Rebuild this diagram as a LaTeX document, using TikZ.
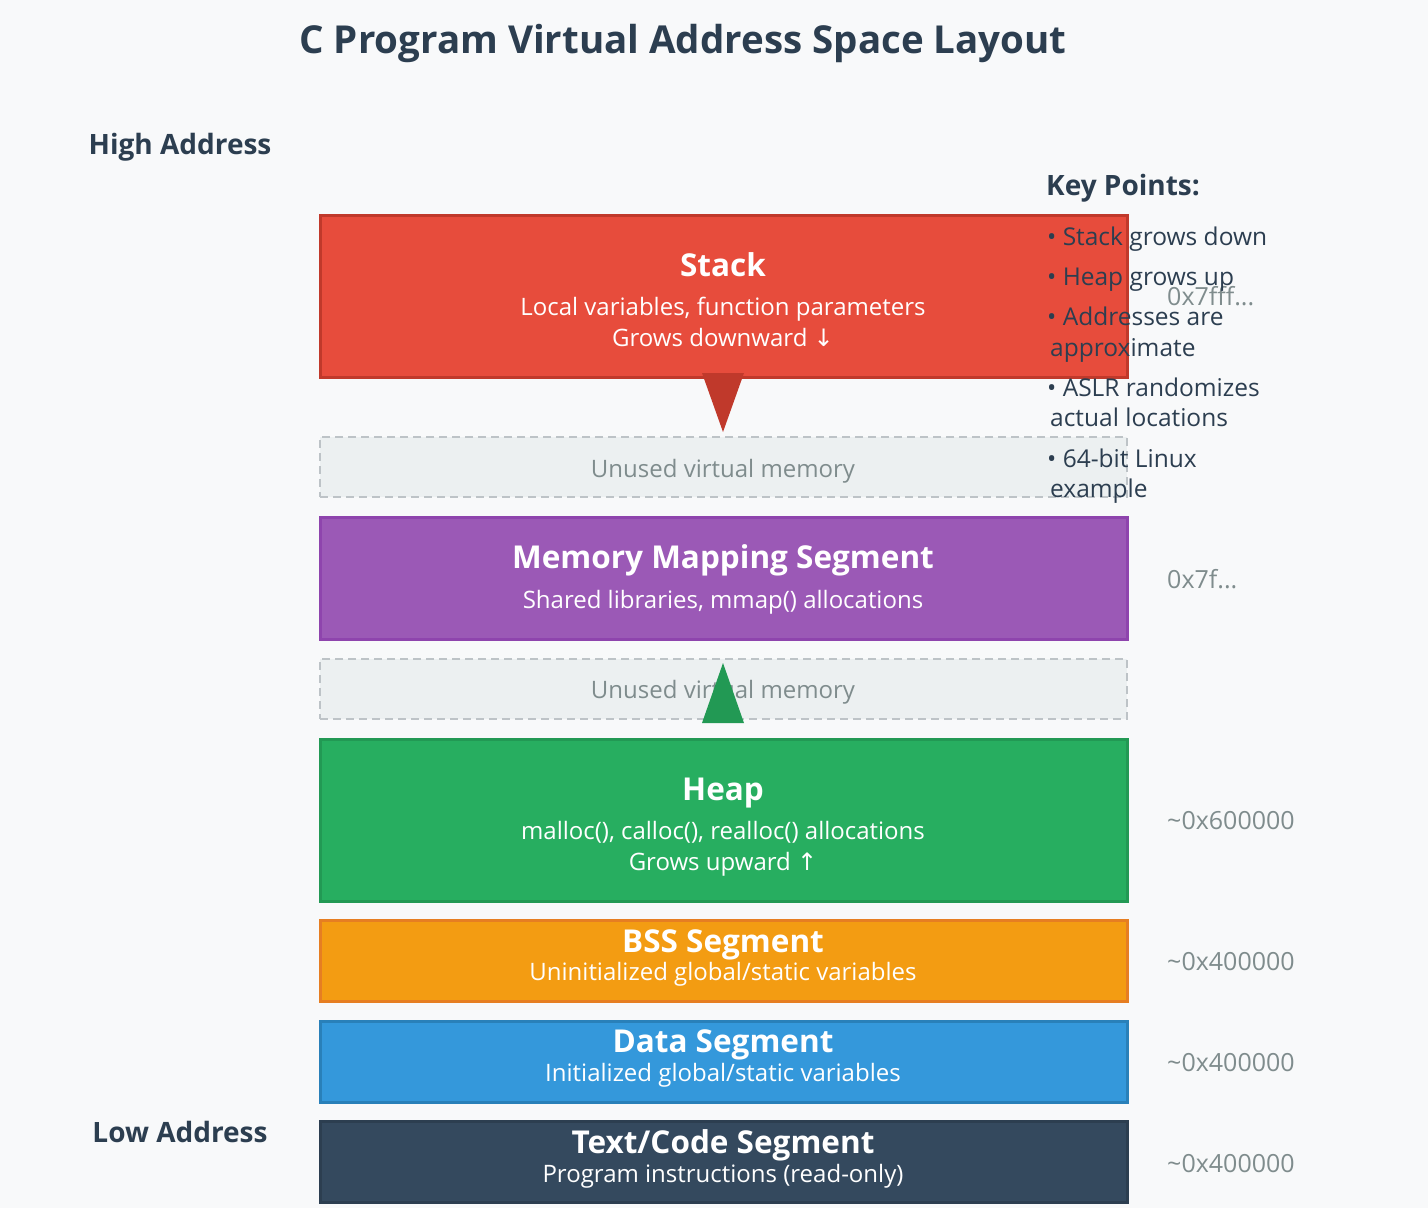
\documentclass[tikz,border=0pt]{standalone}
\usepackage{fontspec}
\setmainfont{Open Sans}
\newfontfamily\symfont{DejaVu Sans}
\definecolor{bg}{HTML}{F8F9FA}
\definecolor{ink}{HTML}{2C3E50}
\definecolor{gray1}{HTML}{7F8C8D}
\definecolor{stackF}{HTML}{E74C3C}\definecolor{stackD}{HTML}{C0392B}
\definecolor{mmapF}{HTML}{9B59B6}\definecolor{mmapD}{HTML}{8E44AD}
\definecolor{heapF}{HTML}{27AE60}\definecolor{heapD}{HTML}{229954}
\definecolor{bssF}{HTML}{F39C12}\definecolor{bssD}{HTML}{E67E22}
\definecolor{dataF}{HTML}{3498DB}\definecolor{dataD}{HTML}{2980B9}
\definecolor{textF}{HTML}{34495E}\definecolor{textD}{HTML}{2C3E50}
\definecolor{unusedF}{HTML}{ECF0F1}\definecolor{unusedD}{HTML}{BDC3C7}
\begin{document}
\begin{tikzpicture}[x=1pt,y=-1pt,
  seg/.style={rectangle, line width=3pt, minimum width=807pt, inner sep=0pt, outer sep=0pt},
  unused/.style={rectangle, draw=unusedD, fill=unusedF, line width=1.5pt, dash pattern=on 8pt off 5pt, minimum width=807pt, minimum height=60pt, inner sep=0pt},
  segtitle/.style={text=white, font=\bfseries\fontsize{31.5}{36}\selectfont, inner sep=0pt, anchor=base},
  segsub/.style={text=white, font=\fontsize{24}{28}\selectfont, inner sep=0pt, anchor=base},
  unusedtxt/.style={text=gray1, font=\fontsize{24}{28}\selectfont, inner sep=0pt, anchor=base},
  addr/.style={text=gray1, font=\fontsize{25}{28}\selectfont, inner sep=0pt, anchor=base west},
  side/.style={text=ink, font=\bfseries\fontsize{28}{32}\selectfont, inner sep=0pt, anchor=base},
  keyhead/.style={text=ink, font=\bfseries\fontsize{28}{32}\selectfont, inner sep=0pt, anchor=base west},
  keytxt/.style={text=ink, font=\fontsize{24.5}{28}\selectfont, inner sep=0pt, anchor=base west},
]
\path[use as bounding box, fill=bg] (0,0) rectangle (1428,1208);

\node[text=ink, font=\bfseries\fontsize{38.5}{44}\selectfont, inner sep=0pt, anchor=base] (title) at (683,53) {C Program Virtual Address Space Layout};
\node[side] (high) at (180,154) {High Address};
\node[side] (low) at (180,1142) {Low Address};

% Stack
\node[seg, fill=stackF, draw=stackD, minimum height=162pt] (stack) at (723.5,296) {};
\node[segtitle] (stackT) at (723,276) {Stack};
\node[segsub] (stackS1) at (723,315) {Local variables, function parameters};
\node[segsub] (stackS2) at (723,346) {Grows downward {\symfont ↓}};
\node[addr] (a1) at (1167,305) {0x7fff...};

% Unused 1
\node[unused] (un1) at (723.5,467) {};
\node[unusedtxt] (un1t) at (723,477) {Unused virtual memory};

% Memory mapping
\node[seg, fill=mmapF, draw=mmapD, minimum height=122pt] (mmap) at (723.5,578) {};
\node[segtitle] (mmapT) at (723,568) {Memory Mapping Segment};
\node[segsub] (mmapS) at (723,608) {Shared libraries, mmap() allocations};
\node[addr] (a2) at (1167,588) {0x7f...};

% Unused 2
\node[unused] (un2) at (723.5,689) {};
\node[unusedtxt] (un2t) at (723,698) {Unused virtual memory};

% Heap
\node[seg, fill=heapF, draw=heapD, minimum height=162pt] (heap) at (723.5,820) {};
\node[segtitle] (heapT) at (723,800) {Heap};
\node[segsub] (heapS1) at (723,839) {malloc(), calloc(), realloc() allocations};
\node[segsub] (heapS2) at (723,870) {Grows upward {\symfont ↑}};
\node[addr] (a3) at (1167,829) {\textasciitilde 0x600000};

% BSS
\node[seg, fill=bssF, draw=bssD, minimum height=81pt] (bss) at (723.5,960.5) {};
\node[segtitle] (bssT) at (723,952) {BSS Segment};
\node[segsub] (bssS) at (723,980) {Uninitialized global/static variables};
\node[addr] (a4) at (1167,970) {\textasciitilde 0x400000};

% Data
\node[seg, fill=dataF, draw=dataD, minimum height=81pt] (data) at (723.5,1061.5) {};
\node[segtitle] (dataT) at (723,1052) {Data Segment};
\node[segsub] (dataS) at (723,1081) {Initialized global/static variables};
\node[addr] (a5) at (1167,1071) {\textasciitilde 0x400000};

% Text
\node[seg, fill=textF, draw=textD, minimum height=81pt] (code) at (723.5,1161.5) {};
\node[segtitle] (codeT) at (723,1153) {Text/Code Segment};
\node[segsub] (codeS) at (723,1182) {Program instructions (read-only)};
\node[addr] (a6) at (1167,1172) {\textasciitilde 0x400000};

% growth arrows
\coordinate (downTip) at (723,432);
\fill[stackD] (702,373) -- (744,373) -- (downTip) -- cycle;
\coordinate (upTip) at (723,663);
\fill[heapD] (702,723) -- (744,723) -- (upTip) -- cycle;

% Key points
\node[keyhead] (kp) at (1046,195) {Key Points:};
\node[keytxt] (k1) at (1047,245) {• Stack grows down};
\node[keytxt] (k2) at (1047,285) {• Heap grows up};
\node[keytxt] (k3) at (1047,325) {• Addresses are};
\node[keytxt] (k3b) at (1050,356) {approximate};
\node[keytxt] (k4) at (1047,396) {• ASLR randomizes};
\node[keytxt] (k4b) at (1050,426) {actual locations};
\node[keytxt] (k5) at (1047,467) {• 64-bit Linux};
\node[keytxt] (k5b) at (1050,497) {example};
\end{tikzpicture}
\end{document}
